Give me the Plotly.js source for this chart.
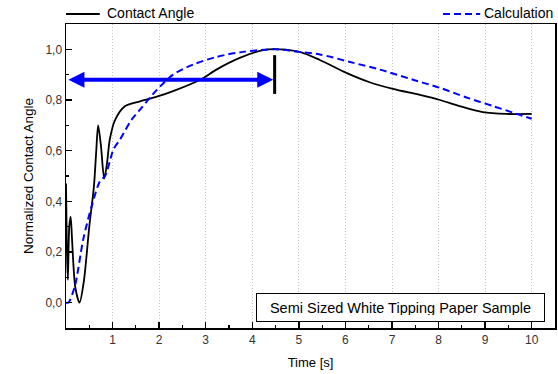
<!DOCTYPE html>
<html><head><meta charset="utf-8">
<script src="https://cdn.plot.ly/plotly-3.0.1.min.js"></script>
<style>html,body{margin:0;padding:0;background:#fff}#chart{width:558px;height:374px}</style>
</head><body><div id="chart"></div>
<script>
// Measured data (Contact Angle, black solid)
const caTime = [0, 0.02, 0.04, 0.07, 0.1, 0.13, 0.2, 0.29, 0.38, 0.5, 0.6, 0.65, 0.69, 0.75, 0.82, 0.88, 0.94, 1.05, 1.27, 1.59, 1.95, 2.3, 2.88, 3.23, 3.73, 4.23, 4.6, 5.02, 5.45, 6.02, 6.52, 7.02, 7.6, 8.03, 8.45, 8.95, 9.46, 10];
const caValue = [0.47, 0.2, 0.09, 0.3, 0.34, 0.25, 0.06, 0.0, 0.08, 0.3, 0.46, 0.6, 0.70, 0.62, 0.49, 0.55, 0.644, 0.72, 0.776, 0.795, 0.813, 0.835, 0.88, 0.92, 0.966, 0.997, 1.0, 0.99, 0.958, 0.907, 0.87, 0.844, 0.82, 0.80, 0.776, 0.752, 0.745, 0.745];
// Calculation (blue dashed)
const calcTime = [0, 0.05, 0.19, 0.37, 0.55, 0.73, 0.84, 1.02, 1.16, 1.41, 1.59, 1.95, 2.3, 2.73, 3.23, 3.8, 4.5, 5.0, 5.45, 6.1, 6.74, 7.45, 8.03, 8.6, 9.17, 9.6, 10];
const calcValue = [0, 0.0, 0.065, 0.25, 0.38, 0.48, 0.5, 0.605, 0.644, 0.723, 0.762, 0.84, 0.9, 0.94, 0.97, 0.99, 1.0, 0.99, 0.98, 0.95, 0.92, 0.88, 0.848, 0.81, 0.776, 0.75, 0.726];
// Annotation values
const arrowStart = 0.02, arrowEnd = 4.45, arrowLevel = 0.88;
const markerX = 4.48, markerLow = 0.824, markerHigh = 0.977;
const seriesNames = ['Contact Angle', 'Calculation'];
const sampleLabel = 'Semi Sized White Tipping Paper Sample';
const xTicks = [1, 2, 3, 4, 5, 6, 7, 8, 9, 10];
const yTicks = [0, 0.2, 0.4, 0.6, 0.8, 1.0];

const font = 'Liberation Sans, Arial, sans-serif';
const traces = [
  {x: caTime, y: caValue, name: seriesNames[0], mode: 'lines',
   line: {color: '#000', width: 1.8, shape: 'spline', smoothing: 0.8}},
  {x: calcTime, y: calcValue, name: seriesNames[1], mode: 'lines',
   line: {color: '#0000ff', width: 2, dash: '7px,4px', shape: 'spline', smoothing: 0.8}}
];
const layout = {
  width: 558, height: 374,
  margin: {l: 66, r: 3, t: 24, b: 46},
  paper_bgcolor: '#fff', plot_bgcolor: '#fff',
  separators: ', ',
  showlegend: false,
  font: {family: font, color: '#222'},
  xaxis: {range: [0, 10.5], tickvals: xTicks, ticks: 'inside', ticklen: 6, tickwidth: 1.5,
    tickcolor: '#000', showline: true, linecolor: '#000', linewidth: 1.5, mirror: true, zeroline: false,
    showgrid: true, gridcolor: '#c4c4c4', griddash: '1px,2px', gridwidth: 1,
    tickfont: {size: 12, color: '#333'},
    minor: {dtick: 0.5, tick0: 0, ticks: 'inside', ticklen: 3, tickwidth: 1.2, tickcolor: '#000', showgrid: false},
    title: {text: 'Time [s]', font: {size: 13, color: '#000'}, standoff: 12}},
  yaxis: {range: [-0.1, 1.1], tickvals: yTicks, tickformat: '.1f', ticks: 'inside', ticklen: 6, tickwidth: 1.5,
    tickcolor: '#000', showline: true, linecolor: '#000', linewidth: 1.5, mirror: true, zeroline: false, showgrid: false,
    tickfont: {size: 12, color: '#333'},
    minor: {dtick: 0.1, tick0: 0, ticks: 'inside', ticklen: 3, tickwidth: 1.2, tickcolor: '#000', showgrid: false},
    title: {text: 'Normalized Contact Angle', font: {size: 13.5, color: '#000'}, standoff: 8}},
  shapes: [
    {type: 'line', xref: 'x', yref: 'y', x0: markerX, x1: markerX, y0: markerLow, y1: markerHigh, line: {color: '#000', width: 3}},
    {type: 'line', xref: 'paper', yref: 'paper', x0: 0, x1: 0.069, y0: 1.033, y1: 1.033, line: {color: '#000', width: 2}},
    {type: 'line', xref: 'paper', yref: 'paper', x0: 0.771, x1: 0.847, y0: 1.033, y1: 1.033, line: {color: '#0000ff', width: 2, dash: '7px,4px'}}
  ],
  annotations: [
    {x: arrowEnd, y: arrowLevel, ax: arrowStart, ay: arrowLevel, xref: 'x', yref: 'y', axref: 'x', ayref: 'y',
     text: '', showarrow: true, arrowside: 'end+start', arrowhead: 2, arrowsize: 0.8, arrowwidth: 4, arrowcolor: '#0000ff'},
    {xref: 'paper', yref: 'paper', x: 0.08, y: 1.036, xanchor: 'left', yanchor: 'middle', showarrow: false,
     text: seriesNames[0], font: {size: 14, color: '#000'}},
    {xref: 'paper', yref: 'paper', x: 1.0, y: 1.036, xanchor: 'right', yanchor: 'middle', showarrow: false,
     text: seriesNames[1], font: {size: 14, color: '#000'}},
    {xref: 'paper', yref: 'paper', x: 0.9796, y: 0.0197, xanchor: 'right', yanchor: 'bottom', showarrow: false,
     text: sampleLabel, font: {size: 14.5, color: '#000'}, bordercolor: '#000', borderwidth: 1, borderpad: 6, bgcolor: '#fff',
     width: 275, height: 15}
  ]
};
Plotly.newPlot('chart', traces, layout, {displayModeBar: false, staticPlot: true});
</script></body></html>
